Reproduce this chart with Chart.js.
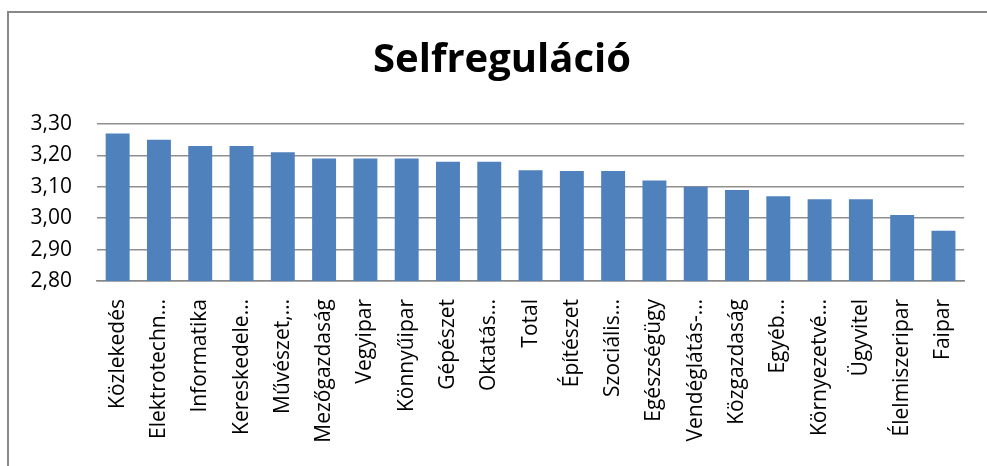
<!DOCTYPE html>
<html>
<head>
<meta charset="utf-8">
<script src="https://cdn.jsdelivr.net/npm/chart.js@4/dist/chart.umd.min.js"></script>
<style>
  html, body { margin: 0; padding: 0; background: #fff; overflow: hidden; }
  #wrap { position: relative; width: 987px; height: 466px; }
  #frame { position: absolute; left: 7px; top: 11px; width: 1100px; height: 600px;
           border-left: 2px solid #888; border-top: 2px solid #888; box-sizing: border-box; }
  canvas { position: absolute; left: 0; top: 0; }
</style>
</head>
<body>
<div id="wrap">
  <div id="frame"></div>
  <canvas id="c" width="987" height="466"></canvas>
</div>
<script>
const chartTitle = 'Selfreguláció';
const categories = ['Közlekedés', 'Elektrotechn…', 'Informatika', 'Kereskedele…', 'Művészet,…',
  'Mezőgazdaság', 'Vegyipar', 'Könnyűipar', 'Gépészet', 'Oktatás…', 'Total', 'Építészet',
  'Szociális…', 'Egészségügy', 'Vendéglátás-…', 'Közgazdaság', 'Egyéb…', 'Környezetvé…',
  'Ügyvitel', 'Élelmiszeripar', 'Faipar'];
const values = [3.27, 3.25, 3.23, 3.23, 3.21, 3.19, 3.19, 3.19, 3.18, 3.18, 3.153, 3.15,
  3.15, 3.12, 3.10, 3.09, 3.07, 3.06, 3.06, 3.01, 2.96];
const yMin = 2.80;
const yMax = 3.30;
const yStep = 0.10;

const FONT = "'Open Sans', 'Liberation Sans', sans-serif";

new Chart(document.getElementById('c'), {
  type: 'bar',
  data: {
    labels: categories,
    datasets: [{
      data: values,
      backgroundColor: '#4F81BD',
      borderWidth: 0,
      categoryPercentage: 1.0,
      barPercentage: 0.58
    }]
  },
  options: {
    responsive: false,
    animation: false,
    devicePixelRatio: 1,
    layout: { padding: { left: 31, right: 14, top: 0, bottom: 0 } },
    plugins: {
      legend: { display: false },
      tooltip: { enabled: false },
      title: {
        display: true,
        text: chartTitle,
        color: '#000',
        font: { family: FONT, size: 40, weight: 'bold', lineHeight: 1.2 },
        padding: { top: 37, bottom: 39 }
      }
    },
    scales: {
      x: {
        grid: { display: false, drawTicks: false },
        border: { display: true, color: '#888', width: 1.5 },
        ticks: {
          autoSkip: false,
          minRotation: 90,
          maxRotation: 90,
          padding: 18,
          color: '#000',
          font: { family: FONT, size: 21 }
        },
        afterFit: (s) => { s.height = 185; }
      },
      y: {
        min: yMin,
        max: yMax,
        grid: { color: '#8f8f8f', lineWidth: 1.5, drawTicks: false },
        border: { display: false },
        ticks: {
          stepSize: yStep,
          padding: 25,
          color: '#000',
          font: { family: FONT, size: 21 },
          callback: (v) => Number(v).toFixed(2).replace('.', ',')
        },
        afterFit: (s) => { s.width = 66; }
      }
    }
  }
});
</script>
</body>
</html>
